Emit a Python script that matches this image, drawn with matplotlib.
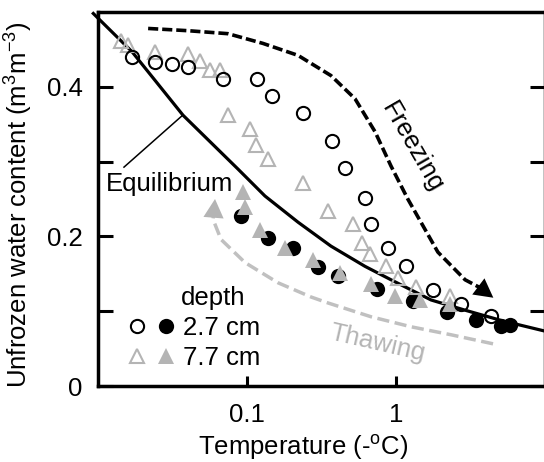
import numpy as np
import matplotlib.pyplot as plt
from matplotlib.ticker import NullLocator
from matplotlib.legend_handler import HandlerTuple

plt.rcParams['font.family'] = ['Liberation Sans', 'DejaVu Sans']
plt.rcParams['mathtext.default'] = 'regular'
plt.rcParams['font.size'] = 18.5

gray = '#b4b4b4'

# 2.7 cm depth, freezing (open circles)
t_frz_27 = [0.0169, 0.0240, 0.0316, 0.0402, 0.0690, 0.117, 0.148, 0.238, 0.374,
            0.452, 0.617, 0.676, 0.884, 1.17, 1.77, 2.74, 4.36]
w_frz_27 = [0.440, 0.433, 0.430, 0.426, 0.411, 0.411, 0.388, 0.365, 0.328,
            0.292, 0.251, 0.217, 0.184, 0.160, 0.129, 0.109, 0.093]
# 2.7 cm depth, thawing (filled circles)
t_thw_27 = [0.0916, 0.138, 0.204, 0.300, 0.408, 0.746, 1.30, 2.20, 3.46, 5.09, 5.80]
w_thw_27 = [0.227, 0.198, 0.184, 0.159, 0.147, 0.130, 0.113, 0.099, 0.088, 0.080, 0.081]
# 7.7 cm depth, freezing (open triangles)
t_frz_77 = [0.0143, 0.0159, 0.0240, 0.0402, 0.0482, 0.0562, 0.0656, 0.0746, 0.105,
            0.115, 0.139, 0.238, 0.350, 0.511, 0.591, 0.672, 0.861, 1.03, 1.37, 2.29]
w_frz_77 = [0.461, 0.456, 0.447, 0.444, 0.434, 0.423, 0.423, 0.362, 0.343,
            0.322, 0.303, 0.271, 0.234, 0.216, 0.191, 0.177, 0.160, 0.145, 0.133, 0.120]
# 7.7 cm depth, thawing (filled triangles)
t_thw_77 = [0.0940, 0.0965, 0.122, 0.179, 0.277, 0.419, 0.683, 0.992, 1.45, 2.30]
w_thw_77 = [0.259, 0.239, 0.209, 0.185, 0.169, 0.151, 0.136, 0.120, 0.115, 0.110]

# equilibrium curve
t_eq = [0.0093, 0.0169, 0.0372, 0.0870, 0.132, 0.220, 0.366, 0.619, 0.926,
        1.72, 2.95, 5.22, 9.70]
w_eq = [0.498, 0.447, 0.362, 0.290, 0.254, 0.219, 0.187, 0.160, 0.142,
        0.115, 0.101, 0.087, 0.074]

# guide arrows
t_frz_arrow = [0.0217, 0.0402, 0.0746, 0.128, 0.220, 0.366, 0.531, 0.723, 0.926,
               1.20, 1.91, 2.91, 3.66]
w_frz_arrow = [0.478, 0.475, 0.471, 0.458, 0.442, 0.415, 0.384, 0.340, 0.294,
               0.250, 0.179, 0.142, 0.1315]
frz_tip = (4.50, 0.1180)
t_thw_arrow = [4.48, 2.34, 1.26, 0.679, 0.350, 0.269, 0.1615, 0.0970, 0.0669, 0.0591, 0.0600]
w_thw_arrow = [0.0564, 0.0685, 0.0792, 0.0926, 0.111, 0.119, 0.138, 0.165, 0.196, 0.223, 0.232]
thw_tip = (0.0610, 0.250)

fig = plt.figure(figsize=(5.44, 4.62), dpi=100)
ax = fig.add_axes([98 / 544, 76 / 462, 447 / 544, 374 / 462])

ax.plot(t_eq, w_eq, color='black', lw=2.3, zorder=2, clip_on=False)

ax.plot(t_frz_arrow, w_frz_arrow, color='black', lw=2.6, dashes=(2.8, 1.1), zorder=2)
ax.annotate('', xy=frz_tip, xytext=(t_frz_arrow[-1], w_frz_arrow[-1]),
            arrowprops=dict(arrowstyle='-|>,head_length=0.5,head_width=0.27',
                            color='black', lw=0, mutation_scale=27,
                            shrinkA=0, shrinkB=0))
ax.plot(t_thw_arrow, w_thw_arrow, color='#c0c0c0', lw=2.5, dashes=(3.5, 1.6), zorder=2)
ax.annotate('', xy=thw_tip, xytext=(t_thw_arrow[-1], w_thw_arrow[-1]),
            arrowprops=dict(arrowstyle='-|>,head_length=0.5,head_width=0.27',
                            color=gray, lw=0, mutation_scale=27,
                            shrinkA=0, shrinkB=0))

h_c_open, = ax.plot(t_frz_27, w_frz_27, 'o', ms=9.5, mfc='none', mec='black',
                    mew=1.5, zorder=6, ls='none')
h_c_fill, = ax.plot(t_thw_27, w_thw_27, 'o', ms=11, mfc='black', mec='black',
                    mew=0, zorder=3, ls='none')
h_t_open, = ax.plot(t_frz_77, w_frz_77, '^', ms=9.5, mfc='none', mec=gray,
                    mew=1.5, zorder=5, ls='none')
h_t_fill, = ax.plot(t_thw_77, w_thw_77, '^', ms=11, mfc=gray, mec=gray,
                    mew=0, zorder=4, ls='none')

# labels on the plot
ax.plot([0.0372, 0.01494], [0.3624, 0.2926], color='black', lw=1.1)
ax.text(0.0113, 0.2608, 'Equilibrium', ha='left', va='baseline')
ax.text(1.28, 0.3195, 'Freezing', ha='center', va='center', rotation=-60)
ax.text(0.757, 0.0577, 'Thawing', ha='center', va='center', rotation=-13, color=gray)
ax.text(0.0360, 0.1087, 'depth', ha='left', va='baseline')

ax.legend([(h_c_open, h_c_fill), (h_t_open, h_t_fill)], ['2.7 cm', '7.7 cm'],
          handler_map={tuple: HandlerTuple(ndivide=None, pad=0)},
          loc='center left', bbox_to_anchor=(0.0548, 0.115), frameon=False,
          borderpad=0, borderaxespad=0, handlelength=2.26, handletextpad=0.1,
          labelspacing=0.2, numpoints=1)

ax.set_xscale('log')
ax.set_xlim(0.01, 10)
ax.set_ylim(0, 0.5)
ax.set_xticks([0.1, 1])
ax.set_xticklabels(['0.1', '1'])
ax.xaxis.set_minor_locator(NullLocator())
ax.set_yticks([0, 0.1, 0.2, 0.3, 0.4])
ax.set_yticklabels(['0', '', '0.2', '', '0.4'])

for s in ax.spines.values():
    s.set_linewidth(2.5)
ax.tick_params(axis='y', direction='in', length=11, width=2.2, left=True, right=True, pad=11)
ax.tick_params(axis='x', direction='in', length=7, width=2.2, top=False, pad=12)

ax.set_xlabel('Temperature (-$^{o}$C)')
ax.set_ylabel('Unfrozen water content (m$^{3}$m$^{-3}$)')
ax.xaxis.set_label_coords(0.4586, -0.126)
ax.yaxis.set_label_coords(-0.141, 0.484)

fig.savefig('out.png', dpi=100)
